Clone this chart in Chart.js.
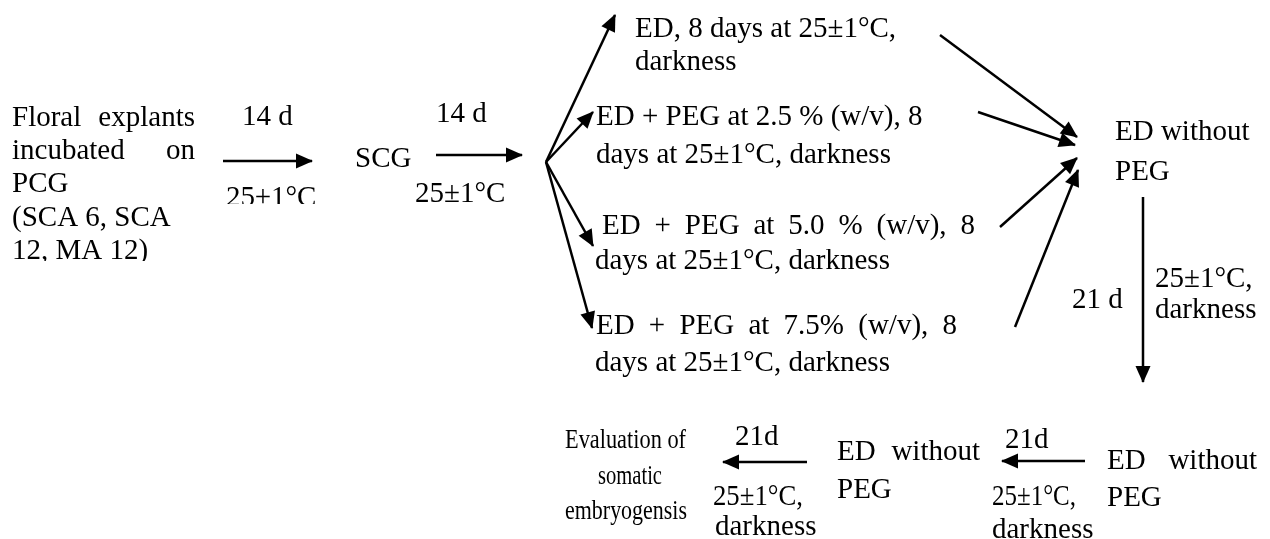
<!DOCTYPE html>
<html>
<head>
<meta charset="utf-8">
<script src="https://cdn.jsdelivr.net/npm/chart.js@4/dist/chart.umd.min.js"></script>
<style>
  html, body { margin: 0; padding: 0; background: #fff; }
  #wrap { width: 1270px; height: 539px; position: relative; }
  canvas { display: block; }
</style>
</head>
<body>
<div id="wrap"><canvas id="c" width="1270" height="539"></canvas></div>
<script>
// ---------------- data (diagram content) ----------------
const startLines = ["Floral explants", "incubated on", "PCG", "(SCA 6, SCA", "12, MA 12)"];
const stageLabels = ["SCG"];
const durationLabels = ["14 d", "14 d", "21 d", "21d", "21d"];
const conditionLabels = [
  ["25±1°C"],
  ["25±1°C"],
  ["25±1°C,", "darkness"],
  ["25±1°C,", "darkness"],
  ["25±1°C,", "darkness"]
];
const treatmentLines = [
  ["ED, 8 days at 25±1°C,", "darkness"],
  ["ED + PEG at 2.5 % (w/v), 8", "days at 25±1°C, darkness"],
  ["ED + PEG at 5.0 % (w/v), 8", "days at 25±1°C, darkness"],
  ["ED + PEG at 7.5% (w/v), 8", "days at 25±1°C, darkness"]
];
const transferLines = [["ED without", "PEG"], ["ED without", "PEG"], ["ED without", "PEG"]];
const endLines = ["Evaluation of", "somatic", "embryogensis"];

// arrows: tail and tip in diagram units (x to the right, y downward)
const arrowFrom = [[223,161],[436,155],[546,162],[546,162],[546,162],[546,162],
                   [940,35],[978,112],[1000,227],[1015,327],[1143,197],[1085,461],[807,462]];
const arrowTo   = [[312,161],[522,155],[615,15],[593,112],[593,246],[592,328],
                   [1077,137],[1075,145],[1077,158],[1078,170],[1143,382],[1002,461],[723,462]];

// ---------------- layout (positions / styles) ----------------
const FONT = '29px "Liberation Serif", "Times New Roman", serif';
const FONT_S = '28px "Liberation Serif", "Times New Roman", serif';
const placements = [
  [startLines[0], 12, 126, {jw:183}],
  [startLines[1], 12, 159, {jw:183}],
  [startLines[2], 12, 192],
  [startLines[3], 12, 226],
  [startLines[4], 12, 259, {clip:261}],
  [durationLabels[0], 242, 125],
  [conditionLabels[0][0], 226, 206, {clip:204}],
  [stageLabels[0], 355, 167],
  [durationLabels[1], 436, 122],
  [conditionLabels[1][0], 415, 202],
  [treatmentLines[0][0], 635, 37],
  [treatmentLines[0][1], 635, 70],
  [treatmentLines[1][0], 596, 125],
  [treatmentLines[1][1], 596, 163],
  [treatmentLines[2][0], 602, 234, {jw:373}],
  [treatmentLines[2][1], 595, 269],
  [treatmentLines[3][0], 596, 334, {jw:361}],
  [treatmentLines[3][1], 595, 371],
  [transferLines[0][0], 1115, 140],
  [transferLines[0][1], 1115, 180],
  [durationLabels[2], 1072, 308],
  [conditionLabels[2][0], 1155, 287],
  [conditionLabels[2][1], 1155, 318],
  [transferLines[1][0], 1107, 469, {jw:150}],
  [transferLines[1][1], 1107, 506],
  [durationLabels[3], 1005, 448],
  [conditionLabels[3][0], 992, 505, {mw:84}],
  [conditionLabels[3][1], 992, 538],
  [transferLines[2][0], 837, 460, {jw:143}],
  [transferLines[2][1], 837, 498],
  [durationLabels[4], 735, 445],
  [conditionLabels[4][0], 713, 505, {mw:90}],
  [conditionLabels[4][1], 715, 535],
  [endLines[0], 565, 448, {mw:121, f:FONT_S}],
  [endLines[1], 598, 484, {mw:64, f:FONT_S}],
  [endLines[2], 565, 519, {mw:122, f:FONT_S}]
];

const datasets = arrowFrom.map((p, i) => ({
  data: [{x: p[0], y: p[1]}, {x: arrowTo[i][0], y: arrowTo[i][1]}],
  showLine: true,
  borderColor: '#000',
  backgroundColor: '#000',
  borderWidth: 2.5,
  pointRadius: 0,
  pointHoverRadius: 0,
  tension: 0,
  clip: false
}));

const arrowHeads = {
  id: 'arrowHeads',
  afterDatasetsDraw(chart) {
    const ctx = chart.ctx;
    ctx.save();
    ctx.fillStyle = '#000';
    chart.data.datasets.forEach((ds, i) => {
      const pts = chart.getDatasetMeta(i).data;
      const a = pts[pts.length - 2], b = pts[pts.length - 1];
      const dx = b.x - a.x, dy = b.y - a.y;
      const len = Math.hypot(dx, dy);
      const ux = dx / len, uy = dy / len;
      const L = 16, HW = 7.5;
      const bx = b.x - ux * L, by = b.y - uy * L;
      ctx.beginPath();
      ctx.moveTo(b.x + ux * 1, b.y + uy * 1);
      ctx.lineTo(bx - uy * HW, by + ux * HW);
      ctx.lineTo(bx + uy * HW, by - ux * HW);
      ctx.closePath();
      ctx.fill();
    });
    ctx.restore();
  }
};

const labels = {
  id: 'labels',
  afterDraw(chart) {
    const ctx = chart.ctx;
    const sx = chart.scales.x, sy = chart.scales.y;
    ctx.save();
    ctx.fillStyle = '#000';
    ctx.textBaseline = 'alphabetic';
    ctx.textAlign = 'left';
    placements.forEach(([s, x, y, o]) => {
      o = o || {};
      const px = sx.getPixelForValue(x), py = sy.getPixelForValue(y);
      ctx.save();
      ctx.font = o.f || FONT;
      if (o.clip) {
        ctx.beginPath();
        ctx.rect(0, 0, chart.width, sy.getPixelForValue(o.clip));
        ctx.clip();
      }
      if (o.jw) {
        const words = s.split(' ');
        const widths = words.map(w => ctx.measureText(w).width);
        const total = widths.reduce((a, b) => a + b, 0);
        const gap = (o.jw - total) / (words.length - 1);
        let cx = px;
        words.forEach((w, k) => { ctx.fillText(w, cx, py); cx += widths[k] + gap; });
      } else if (o.mw) {
        ctx.fillText(s, px, py, o.mw);
      } else {
        ctx.fillText(s, px, py);
      }
      ctx.restore();
    });
    ctx.restore();
  }
};

new Chart(document.getElementById('c'), {
  type: 'scatter',
  data: { datasets },
  options: {
    responsive: false,
    animation: false,
    events: [],
    layout: { padding: 0 },
    plugins: { legend: { display: false }, tooltip: { enabled: false } },
    scales: {
      x: { type: 'linear', min: 0, max: 1270, display: false },
      y: { type: 'linear', min: 0, max: 539, reverse: true, display: false }
    }
  },
  plugins: [arrowHeads, labels]
});
</script>
</body>
</html>
